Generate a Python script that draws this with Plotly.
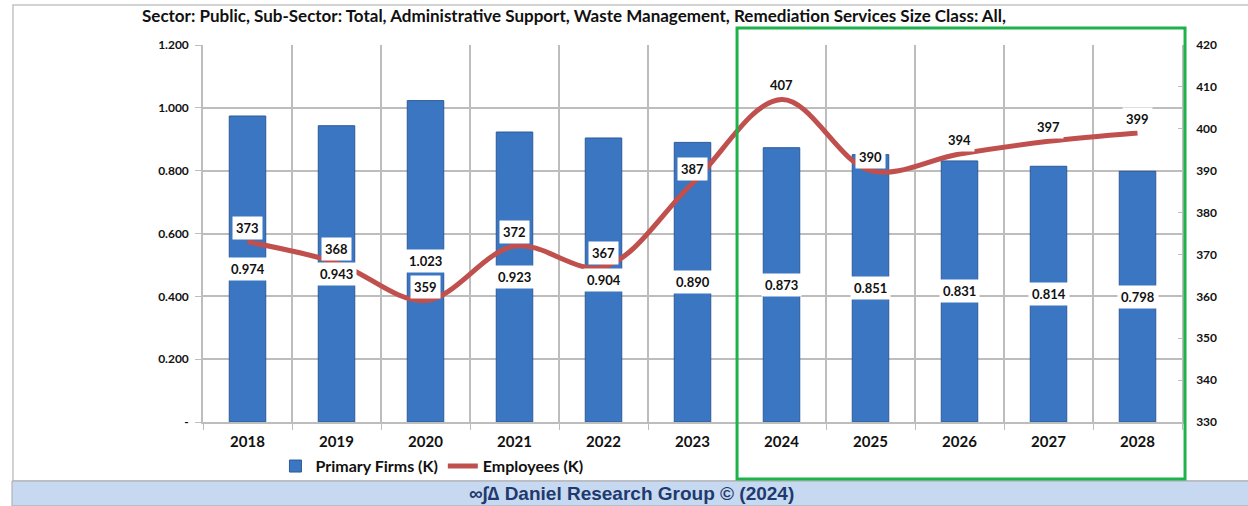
import plotly.graph_objects as go

# Annual values
years = ["2018", "2019", "2020", "2021", "2022", "2023", "2024", "2025", "2026", "2027", "2028"]
primary_firms = [0.974, 0.943, 1.023, 0.923, 0.904, 0.890, 0.873, 0.851, 0.831, 0.814, 0.798]
employees = [373, 368, 359, 372, 367, 387, 407, 390, 394, 397, 399]

left_ticks = [0.0, 0.2, 0.4, 0.6, 0.8, 1.0, 1.2]
left_ticktext = ["-", "0.200", "0.400", "0.600", "0.800", "1.000", "1.200"]
right_ticks = [330, 340, 350, 360, 370, 380, 390, 400, 410, 420]

title_text = ("Sector: Public, Sub-Sector: Total, Administrative Support, Waste Management, "
              "Remediation Services Size Class: All,")
footer_text = "∞∫∆ Daniel Research Group © (2024)"

FONT = "Lato"
BAR_BLUE = "#3b76c2"
LINE_RED = "#c0504d"
GRID = "#bdbdbd"

fig = go.Figure()

fig.add_trace(go.Bar(
    x=years, y=primary_firms, name="Primary Firms (K)",
    marker=dict(color=BAR_BLUE, line=dict(color="#2c5a97", width=1)),
    width=0.41, yaxis="y", hoverinfo="skip",
))

fig.add_trace(go.Scatter(
    x=years, y=employees, name="Employees (K)", mode="lines",
    line=dict(color=LINE_RED, width=5, shape="spline", smoothing=1.0),
    yaxis="y2", hoverinfo="skip",
))

annotations = []
# firm counts: white boxes at mid-height of each bar (x given as category index)
for i, v in enumerate(primary_firms):
    annotations.append(dict(
        x=i, y=v / 2, xref="x", yref="y", text=f"{v:.3f}", showarrow=False,
        font=dict(family=FONT, size=13, color="#111111", weight="bold"),
        bgcolor="white", borderpad=3,
    ))
# employee counts: white boxes just above the line
for i, v in enumerate(employees):
    annotations.append(dict(
        x=i, y=v, xref="x", yref="y2", text=str(v), showarrow=False,
        font=dict(family=FONT, size=13, color="#111111", weight="bold"),
        bgcolor="white", borderpad=3, yshift=14,
    ))

annotations.append(dict(
    x=-0.0644, y=1.077, xref="paper", yref="paper", xanchor="left", yanchor="middle",
    text=title_text, showarrow=False,
    font=dict(family=FONT, size=17, color="#111111", weight="bold"),
))
annotations.append(dict(
    x=0.438, y=-0.1916, xref="paper", yref="paper", xanchor="center", yanchor="middle",
    text=footer_text, showarrow=False,
    font=dict(family="Liberation Sans", size=19, color="#1f3a6e", weight="bold"),
))

shapes = [
    # outer frame
    dict(type="rect", xref="paper", yref="paper", x0=-0.1941, x1=1.07, y0=-0.1565, y1=1.106,
         line=dict(color="#c4c4c4", width=1.5), fillcolor="rgba(0,0,0,0)", layer="below"),
    # footer band
    dict(type="rect", xref="paper", yref="paper", x0=-0.1951, x1=1.07, y0=-0.2228, y1=-0.1565,
         line=dict(color="#a8a8a8", width=1), fillcolor="#c6d9f0", layer="below"),
    # forecast highlight box
    dict(type="rect", xref="paper", yref="paper", x0=0.5455, x1=1.0031, y0=-0.1512, y1=1.0451,
         line=dict(color="#1db24a", width=3), fillcolor="rgba(0,0,0,0)", layer="above"),
]

fig.update_layout(
    width=1248, height=506,
    margin=dict(l=203, r=66, t=45, b=84),
    paper_bgcolor="white", plot_bgcolor="white",
    font=dict(family=FONT, color="#111111"),
    showlegend=True,
    legend=dict(
        orientation="h", x=0.074, y=-0.072, xanchor="left", yanchor="top",
        font=dict(family=FONT, size=16, color="#111111", weight="bold"),
        bgcolor="rgba(0,0,0,0)", itemwidth=30, tracegroupgap=0,
    ),
    xaxis=dict(
        type="category", tickson="boundaries", showgrid=True, gridcolor=GRID, gridwidth=1.5,
        showline=True, linecolor=GRID, linewidth=1.5,
        ticks="outside", ticklen=6, tickcolor=GRID,
        tickfont=dict(family=FONT, size=15, color="#111111", weight="bold"),
        ticklabelstandoff=5,
        range=[-0.5, 10.5], fixedrange=True,
    ),
    yaxis=dict(
        range=[0, 1.2], tickvals=left_ticks, ticktext=left_ticktext,
        showgrid=True, gridcolor=GRID, gridwidth=1.5, zeroline=False,
        showline=True, linecolor=GRID, linewidth=1.5,
        ticks="outside", ticklen=6, tickcolor=GRID,
        tickfont=dict(family=FONT, size=12, color="#111111", weight="bold"),
        ticklabelstandoff=4,
    ),
    yaxis2=dict(
        range=[330, 420], tickvals=right_ticks, overlaying="y", side="right",
        showgrid=False, zeroline=False,
        showline=True, linecolor=GRID, linewidth=1.5,
        ticks="inside", ticklen=4, tickcolor=GRID,
        tickfont=dict(family=FONT, size=12, color="#111111", weight="bold"),
        ticklabelstandoff=10,
    ),
    annotations=annotations,
    shapes=shapes,
)

fig.write_html("out.html")
